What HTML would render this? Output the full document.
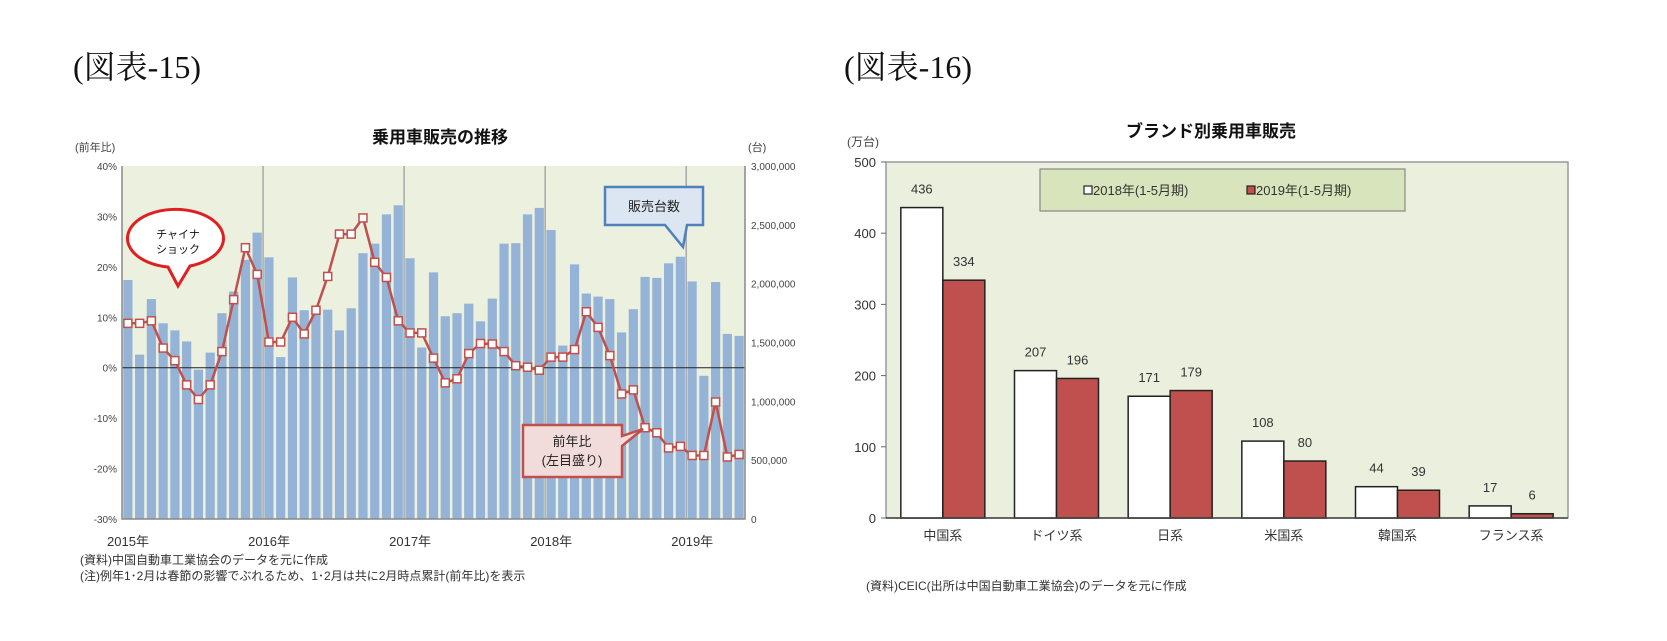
<!DOCTYPE html>
<html><head><meta charset="utf-8">
<style>
body{margin:0;background:#fff;}
svg{display:block;font-family:"Liberation Sans","Noto Sans CJK JP",sans-serif;}
</style></head>
<body>
<svg id="svg" width="1667" height="641" viewBox="0 0 1667 641">
<text x="73" y="78" font-family="Liberation Serif,Noto Serif CJK SC,serif" font-size="32" fill="#111">(図表-15)</text>
<text x="844" y="78" font-family="Liberation Serif,Noto Serif CJK SC,serif" font-size="32" fill="#111">(図表-16)</text>
<g id="left"></g>
<g id="right"></g>
</svg>
<script>
// ---- Left chart data ----
const months = ["2015-01","2015-02","2015-03","2015-04","2015-05","2015-06","2015-07","2015-08","2015-09","2015-10","2015-11","2015-12","2016-01","2016-02","2016-03","2016-04","2016-05","2016-06","2016-07","2016-08","2016-09","2016-10","2016-11","2016-12","2017-01","2017-02","2017-03","2017-04","2017-05","2017-06","2017-07","2017-08","2017-09","2017-10","2017-11","2017-12","2018-01","2018-02","2018-03","2018-04","2018-05","2018-06","2018-07","2018-08","2018-09","2018-10","2018-11","2018-12","2019-01","2019-02","2019-03","2019-04","2019-05"];
const salesUnits = [2031000,1397000,1869000,1663000,1603000,1509000,1269000,1414000,1749000,1933000,2203000,2434000,2224000,1376000,2053000,1774000,1774000,1779000,1603000,1791000,2259000,2340000,2589000,2666000,2216000,1457000,2096000,1723000,1749000,1830000,1680000,1873000,2340000,2344000,2589000,2644000,2456000,1474000,2164000,1916000,1890000,1869000,1586000,1783000,2057000,2049000,2173000,2229000,2019000,1217000,2014000,1573000,1556000];
const yoyPct = [8.8,8.8,9.3,3.9,1.4,-3.4,-6.3,-3.4,3.2,13.5,23.8,18.5,5.1,5.1,10.0,6.7,11.4,18.1,26.5,26.5,29.7,20.9,17.9,9.3,6.9,6.9,1.9,-3.0,-2.2,2.8,4.8,4.7,3.2,0.4,0.1,-0.5,2.1,2.1,3.6,11.1,8.0,2.4,-5.2,-4.4,-11.9,-12.9,-15.9,-15.6,-17.4,-17.4,-6.8,-17.7,-17.2];
const leftTicks = ["40%","30%","20%","10%","0%","-10%","-20%","-30%"];
const rightTicks = ["3,000,000","2,500,000","2,000,000","1,500,000","1,000,000","500,000","0"];
const yearLabels = ["2015年","2016年","2017年","2018年","2019年"];
// ---- Right chart data ----
const brands = ["中国系","ドイツ系","日系","米国系","韓国系","フランス系"];
const sales2018 = [436,207,171,108,44,17];
const sales2019 = [334,196,179,80,39,6];
const brandTicks = [0,100,200,300,400,500];

const NS="http://www.w3.org/2000/svg";
function mk(parent,tag,attrs,text){const e=document.createElementNS(NS,tag);for(const k in attrs)e.setAttribute(k,attrs[k]);if(text!==undefined)e.textContent=text;parent.appendChild(e);return e;}

// Left chart
const L=document.getElementById('left');
const px0=122,px1=745,py0=166,py1=519;
const n=months.length, mw=(px1-px0)/n;
const yPct=v=>py0+(40-v)/70*(py1-py0);
const yUnits=v=>py1-v/3000000*(py1-py0);
const xM=i=>px0+(i+0.5)*mw;
let e;
e=mk(L,'rect',{x:px0,y:py0,width:px1-px0,height:py1-py0,fill:'#ecf0df'});


for(let yi=0;yi<yearLabels.length;yi++){
  const x=px0+yi*12*mw;
  if(yi>0){e=mk(L,'line',{x1:x,y1:py0,x2:x,y2:py1,stroke:'#a8a8a8','stroke-width':1.5});
  
  }
  e=mk(L,'text',{x:x+6,y:546,'font-size':13,'text-anchor':'middle',fill:'#333'},yearLabels[yi]);
  
  
}
salesUnits.forEach((v,i)=>{
  const y=yUnits(v);
  const b=mk(L,'rect',{x:xM(i)-4.6,y:y,width:9.2,height:py1-y,fill:'#95b3d7'});
  
  
});
e=mk(L,'line',{x1:px0,y1:yPct(0),x2:px1,y2:yPct(0),stroke:'#222','stroke-width':1});


e=mk(L,'path',{d:`M${px0},${py0}V${py1}H${px1}V${py0}`,fill:'none',stroke:'#888','stroke-width':1.5});


leftTicks.forEach((t,i)=>{
  const y=py0+i*(py1-py0)/7;
  const tx=mk(L,'text',{x:px0-5,y:y+4,'font-size':10,'text-anchor':'end',fill:'#444'},t);
  
  
});
rightTicks.forEach((t,i)=>{
  const y=py0+i*(py1-py0)/6;
  const tx=mk(L,'text',{x:px1+6,y:y+4,'font-size':10,fill:'#444'},t);
  
  
});
const pts=yoyPct.map((v,i)=>xM(i).toFixed(1)+','+yPct(v).toFixed(1)).join(' ');
e=mk(L,'polyline',{points:pts,fill:'none',stroke:'#c0504d','stroke-width':2.5});


yoyPct.forEach((v,i)=>{
  const m=mk(L,'rect',{x:xM(i)-4,y:yPct(v)-4,width:8,height:8,fill:'#fff',stroke:'#c0504d','stroke-width':1.5});
  
  
});
e=mk(L,'text',{x:440,y:143,'font-size':17,'text-anchor':'middle',fill:'#111','font-weight':'bold'},'乗用車販売の推移');


e=mk(L,'text',{x:75,y:151,'font-size':11,fill:'#444'},'(前年比)');


e=mk(L,'text',{x:748,y:151,'font-size':11,fill:'#444'},'(台)');


// callouts
e=mk(L,'path',{d:'M168,267 A48,29 0 1 1 190,266 L178,286 Z',fill:'#fff',stroke:'#e02020','stroke-width':3});


e=mk(L,'text',{x:178,y:238,'font-size':11,'text-anchor':'middle',fill:'#111'},'チャイナ');


e=mk(L,'text',{x:178,y:253,'font-size':11,'text-anchor':'middle',fill:'#111'},'ショック');


e=mk(L,'path',{d:'M605,187 H703 V225 H687 L683,247 L665,225 H605 Z',fill:'#dce6f2',stroke:'#4f81bd','stroke-width':2.5});


e=mk(L,'text',{x:654,y:211,'font-size':13,'text-anchor':'middle',fill:'#222'},'販売台数');


e=mk(L,'path',{d:'M523,425 H622 V436 L643,429 L622,446 V477 H523 Z',fill:'#f2dcdb',stroke:'#c0504d','stroke-width':2.5});


e=mk(L,'text',{x:572,y:446,'font-size':13,'text-anchor':'middle',fill:'#222'},'前年比');


e=mk(L,'text',{x:572,y:465,'font-size':13,'text-anchor':'middle',fill:'#222'},'(左目盛り)');


e=mk(L,'text',{x:80,y:564,'font-size':12,fill:'#333'},'(資料)中国自動車工業協会のデータを元に作成');


e=mk(L,'text',{x:80,y:580,'font-size':12,fill:'#333'},'(注)例年1･2月は春節の影響でぶれるため、1･2月は共に2月時点累計(前年比)を表示');



// Right chart
const R=document.getElementById('right');
const rx0=886,rx1=1568,ry0=162,ry1=518;
const yV=v=>ry1-v/500*(ry1-ry0);
const cw=(rx1-rx0)/brands.length;
e=mk(R,'rect',{x:rx0,y:ry0,width:rx1-rx0,height:ry1-ry0,fill:'#ebf0de',stroke:'#999','stroke-width':1.5});


brandTicks.forEach(t=>{
  const y=yV(t);
  const l=mk(R,'line',{x1:rx0-5,y1:y,x2:rx0,y2:y,stroke:'#666'});
  
  
  const tx=mk(R,'text',{x:rx0-10,y:y+5,'font-size':13,'text-anchor':'end',fill:'#333'},String(t));
  
  
});
brands.forEach((b,i)=>{
  const cx=rx0+(i+0.5)*cw;
  const y1=yV(sales2018[i]), y2=yV(sales2019[i]);
  let r=mk(R,'rect',{x:cx-42,y:y1,width:42,height:ry1-y1,fill:'#fff',stroke:'#222','stroke-width':1.5});
  
  
  r=mk(R,'rect',{x:cx,y:y2,width:42,height:ry1-y2,fill:'#c0504d',stroke:'#222','stroke-width':1.5});
  
  
  let t=mk(R,'text',{x:cx-21,y:y1-14,'font-size':13,'text-anchor':'middle',fill:'#333'},String(sales2018[i]));
  
  
  t=mk(R,'text',{x:cx+21,y:y2-14,'font-size':13,'text-anchor':'middle',fill:'#333'},String(sales2019[i]));
  
  
  t=mk(R,'text',{x:cx,y:540,'font-size':13,'text-anchor':'middle',fill:'#333'},b);
  
  
});
e=mk(R,'line',{x1:rx0,y1:ry1,x2:rx1,y2:ry1,stroke:'#444','stroke-width':1.5});


e=mk(R,'rect',{x:1040,y:169,width:365,height:42,fill:'#d8e4bc',stroke:'#888','stroke-width':1.2});


e=mk(R,'rect',{x:1084,y:186,width:8,height:8,fill:'#fff',stroke:'#222','stroke-width':1.2});


e=mk(R,'text',{x:1093,y:195,'font-size':13,fill:'#333'},'2018年(1-5月期)');


e=mk(R,'rect',{x:1247,y:186,width:8,height:8,fill:'#c0504d',stroke:'#222','stroke-width':1.2});


e=mk(R,'text',{x:1256,y:195,'font-size':13,fill:'#333'},'2019年(1-5月期)');


e=mk(R,'text',{x:1211,y:137,'font-size':17,'text-anchor':'middle',fill:'#111','font-weight':'bold'},'ブランド別乗用車販売');


e=mk(R,'text',{x:847,y:146,'font-size':12,fill:'#444'},'(万台)');


e=mk(R,'text',{x:866,y:590,'font-size':12,fill:'#333'},'(資料)CEIC(出所は中国自動車工業協会)のデータを元に作成');


</script>
</body></html>
